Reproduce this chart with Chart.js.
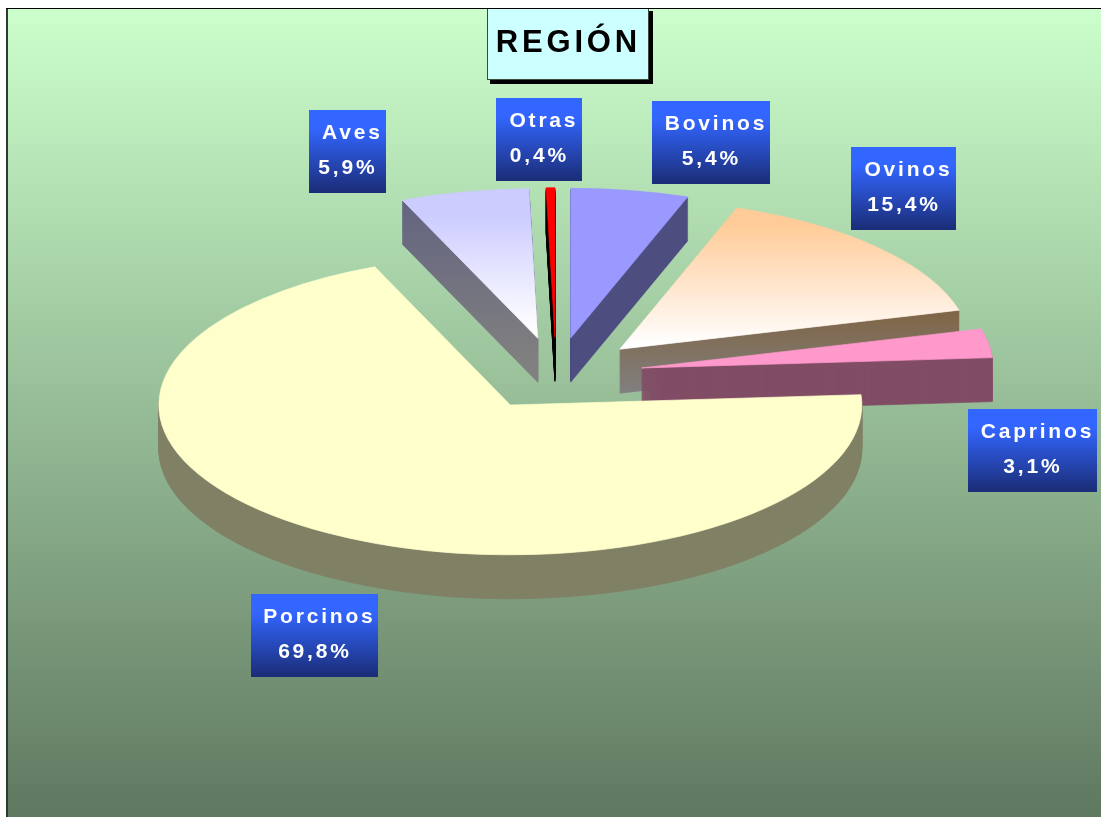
<!DOCTYPE html>
<html lang="es">
<head>
<meta charset="utf-8">
<title>REGIÓN</title>
<style>html,body{margin:0;padding:0;background:#fff}canvas{display:block}</style>
<script src="https://cdn.jsdelivr.net/npm/chart.js@4/dist/chart.umd.min.js"></script>
</head>
<body>
<canvas id="c" width="1101" height="817"></canvas>
<script>
const chartTitle = 'REGIÓN';
const categories = ['Bovinos', 'Ovinos', 'Caprinos', 'Porcinos', 'Aves', 'Otras'];
const shares = [5.4, 15.4, 3.1, 69.8, 5.9, 0.4];
const sliceColors = ['#9999FF', '#FFCC99', '#FF99CC', '#FFFFCC', '#CCCCFF', '#FF0000'];
const wallColors = ['#4D4D80', '#806648', '#804D66', '#808066', '#646480', '#000000'];

// Layout and style settings (not data)
const faceFade = [null, [225, 345], null, null, [215, 330], null];
const wallFade = [null, [315, 393], null, null, [205, 360], null];
const drawOrder = [4, 5, 0, 1, 2, 3];
const squash = 0.426, depth = 44, explodeX = 87, explodeY = 85.6;
const labelBoxes = [
  [652, 101, 118], [851, 147, 105], [968, 409, 129],
  [251, 594, 127], [309, 110, 77], [496, 98, 86]
];
const FONT = '"Liberation Sans", Arial, sans-serif';

function textAt(ctx, str, cx, baseline, spacing) {
  ctx.letterSpacing = spacing + 'px';
  const w = ctx.measureText(str).width - spacing;
  ctx.textAlign = 'left';
  ctx.fillText(str, cx - w / 2, baseline);
}

const scene = {
  id: 'scene',
  beforeDraw(chart) {
    const ctx = chart.ctx;
    const g = ctx.createLinearGradient(0, 9, 0, 817);
    g.addColorStop(0, '#CCFFCC');
    g.addColorStop(1, '#5F7860');
    ctx.save();
    ctx.fillStyle = '#000';
    ctx.fillRect(6, 8, 1095, 1);
    ctx.fillStyle = '#2E3A30';
    ctx.fillRect(6, 9, 2, 808);
    ctx.fillStyle = g;
    ctx.fillRect(8, 9, 1093, 808);
    ctx.restore();
  },
  beforeDatasetsDraw(chart) {
    const ctx = chart.ctx;
    const arcs = chart.getDatasetMeta(0).data;
    drawOrder.forEach(i => {
      const el = arcs[i];
      const p = el.getProps(['x', 'y', 'startAngle', 'endAngle', 'outerRadius'], true);
      const mid = (p.startAngle + p.endAngle) / 2;
      const ex = Math.cos(mid) * explodeX, ey = Math.sin(mid) * explodeY;
      // map a screen height to the slice's own unsquashed coordinates
      const toLocal = (Y, d) => p.y - ey + (Y - p.y - d) / squash;
      const fill = (color, end, fade, d) => {
        if (!fade) return color;
        const g = ctx.createLinearGradient(0, toLocal(fade[0], d), 0, toLocal(fade[1], d));
        g.addColorStop(0, color);
        g.addColorStop(1, end);
        return g;
      };
      const paint = (style, d) => {
        const saved = el.options;
        el.options = Object.assign({}, saved, {
          backgroundColor: style, borderColor: style, borderWidth: 1, borderJoinStyle: 'round'
        });
        ctx.save();
        ctx.translate(0, d);
        ctx.translate(p.x, p.y);
        ctx.scale(1, squash);
        ctx.translate(-p.x, -p.y);
        ctx.translate(ex, ey);
        el.draw(ctx);
        ctx.restore();
        el.options = saved;
      };
      for (let d = depth; d >= 1; d--) paint(fill(wallColors[i], '#808080', wallFade[i], d), d);
      paint(fill(sliceColors[i], '#FFFFFF', faceFade[i], 0), 0);
    });
    return false;
  },
  afterDraw(chart) {
    const ctx = chart.ctx;
    ctx.save();
    // title box
    ctx.fillStyle = '#000';
    ctx.fillRect(490, 11, 163, 73);
    ctx.fillStyle = '#3B4A3B';
    ctx.fillRect(487, 9, 162, 71);
    ctx.fillStyle = '#CCFFFF';
    ctx.fillRect(488, 9, 160, 70);
    ctx.fillStyle = '#000';
    ctx.font = 'bold 31px ' + FONT;
    textAt(ctx, chartTitle, 566.5, 52, 3.8);
    // value labels
    categories.forEach((name, i) => {
      const [x, y, w] = labelBoxes[i];
      const g = ctx.createLinearGradient(0, y, 0, y + 83);
      g.addColorStop(0, '#3366FF');
      g.addColorStop(0.22, '#3366FF');
      g.addColorStop(1, '#1A2C75');
      ctx.fillStyle = g;
      ctx.fillRect(x, y, w, 83);
      ctx.fillStyle = '#FFFFFF';
      ctx.font = 'bold 21px ' + FONT;
      const cx = x + w / 2;
      textAt(ctx, name, cx + 3.5, y + 28.5, 2.8);
      textAt(ctx, shares[i].toFixed(1).replace('.', ',') + '%', cx - 1, y + 63.5, 2.8);
    });
    ctx.restore();
  }
};

new Chart(document.getElementById('c'), {
  type: 'pie',
  data: {
    labels: categories,
    datasets: [{ data: shares, backgroundColor: sliceColors, borderWidth: 0, hoverOffset: 0 }]
  },
  options: {
    responsive: false,
    animation: false,
    rotation: 0,
    radius: 351.5,
    layout: { padding: { left: 11, right: 0, top: 0, bottom: 69 } },
    events: [],
    plugins: { legend: { display: false }, tooltip: { enabled: false }, title: { display: false } }
  },
  plugins: [scene]
});
</script>
</body>
</html>
